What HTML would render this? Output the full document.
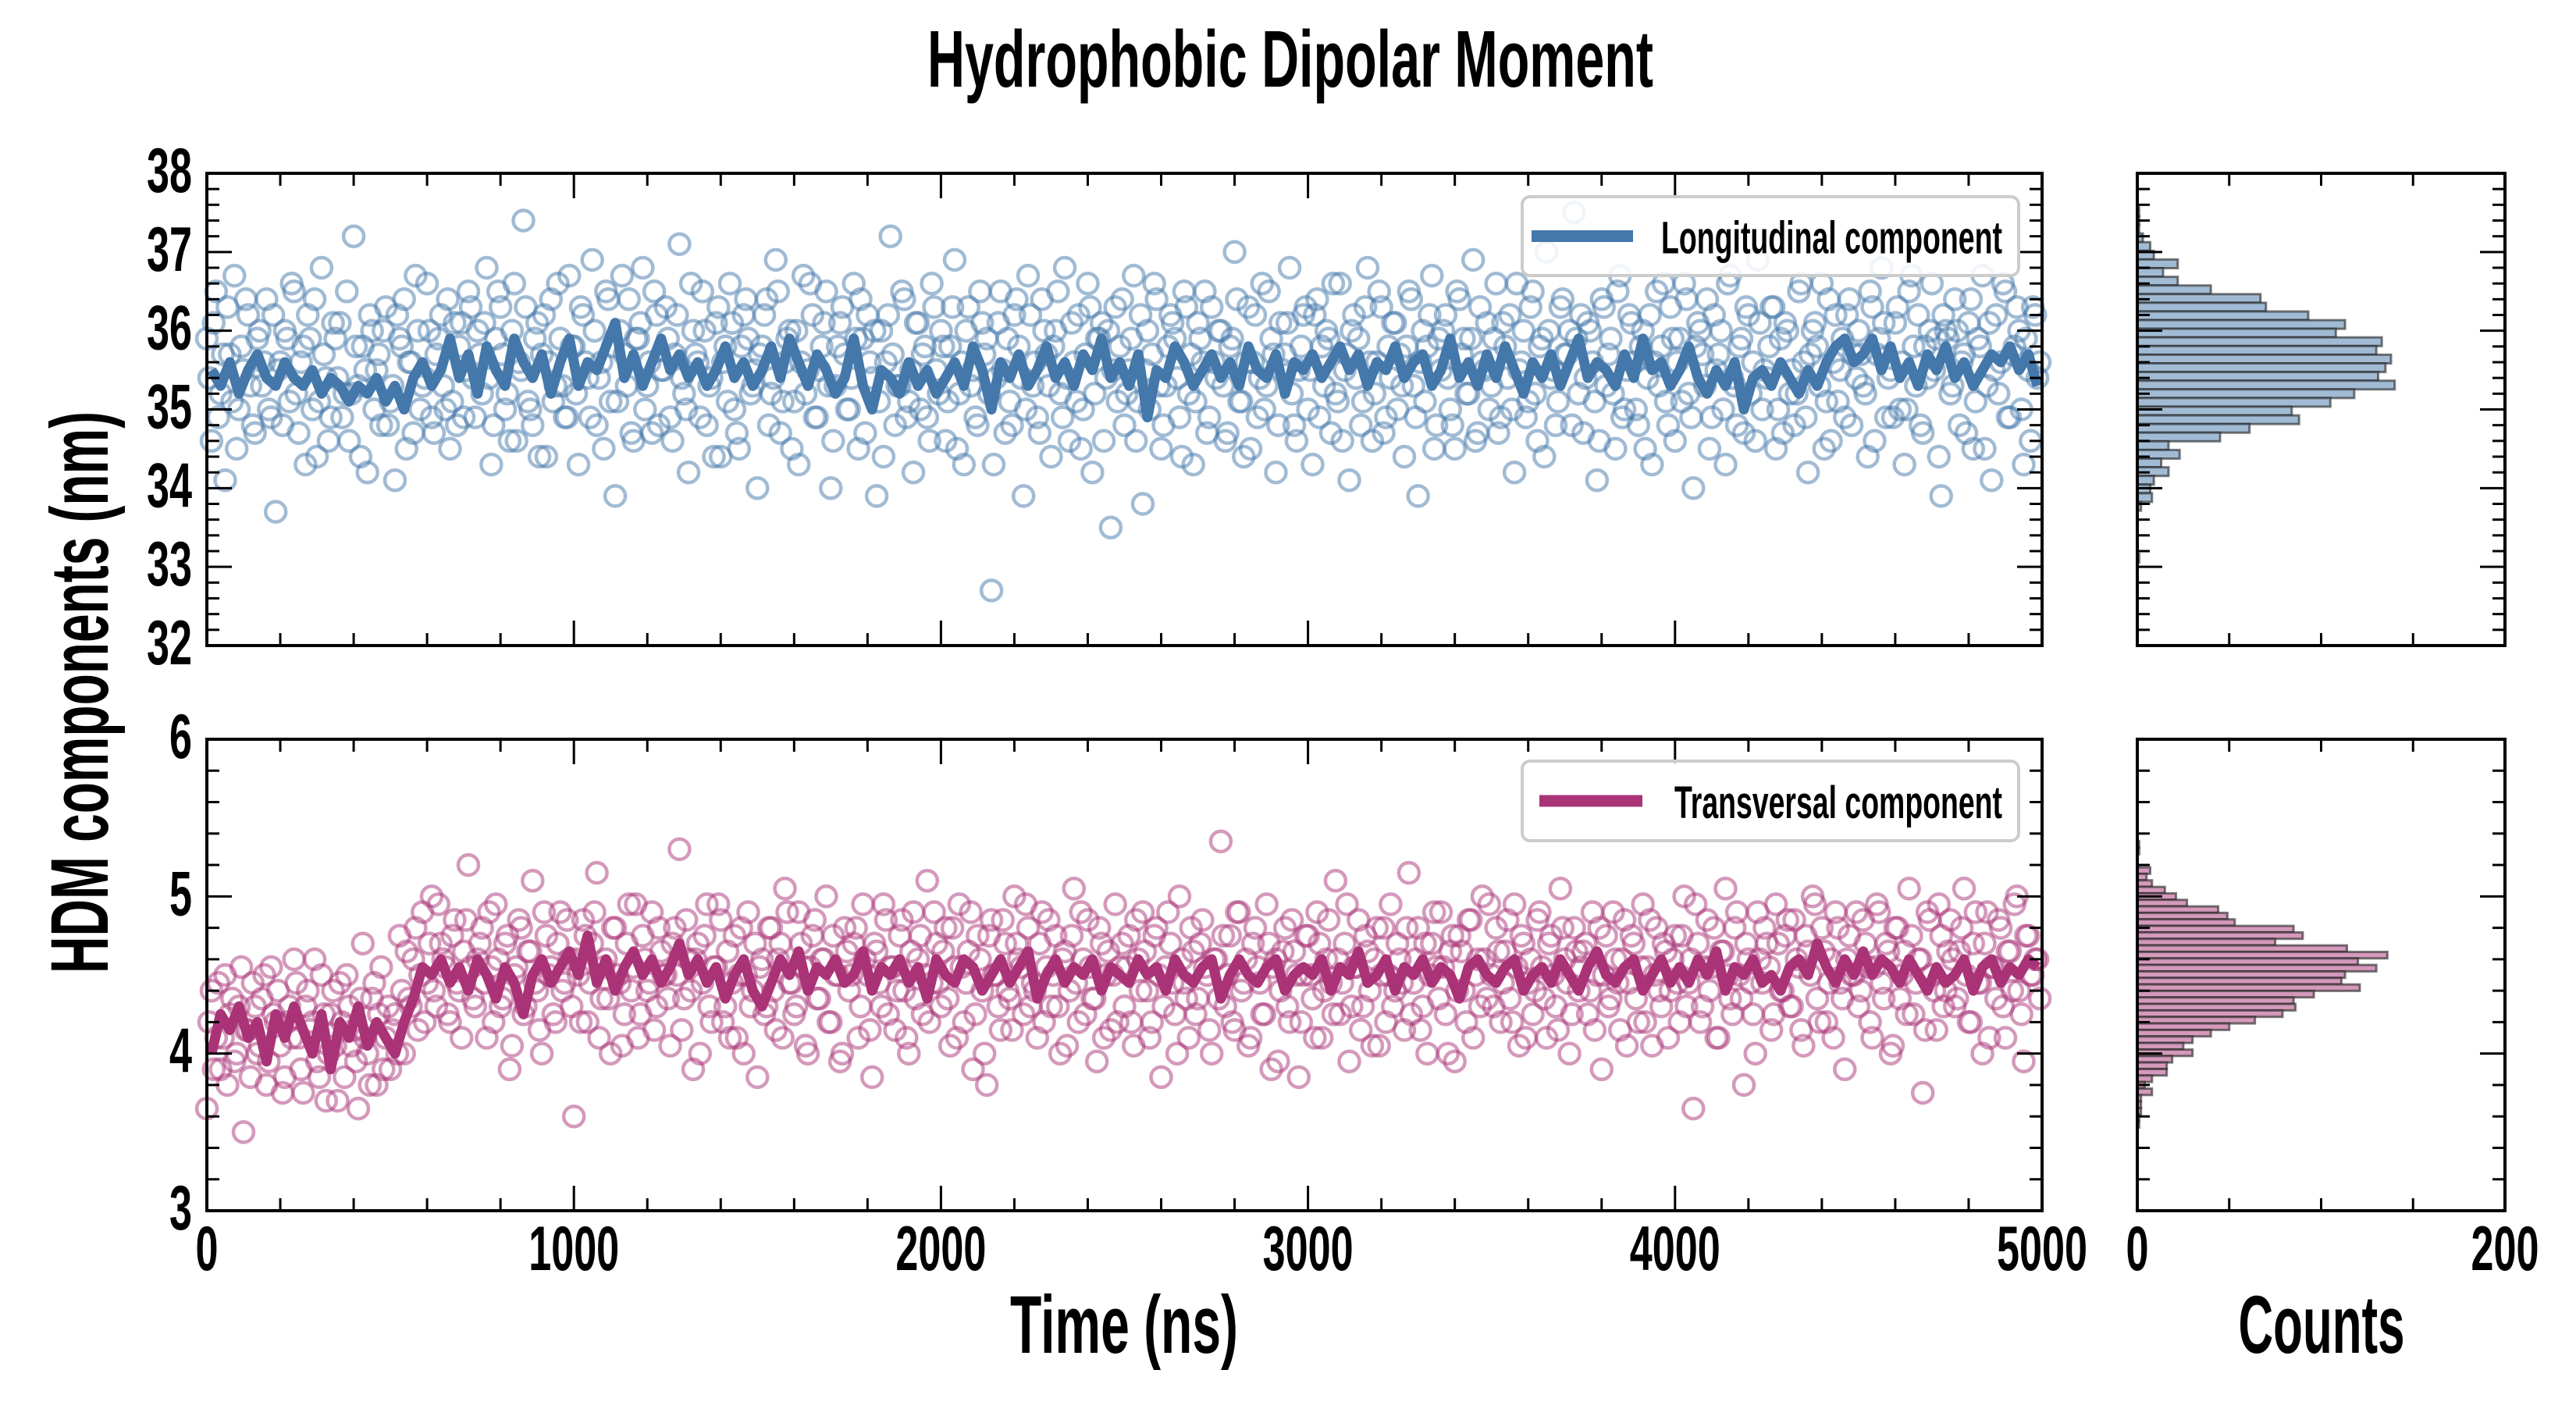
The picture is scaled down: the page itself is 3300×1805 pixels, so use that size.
<!DOCTYPE html>
<html><head><meta charset="utf-8"><style>
html,body{margin:0;padding:0;background:#fff;}
svg text{font-family:"Liberation Sans Narrow","Liberation Sans",sans-serif;font-weight:bold;fill:#000;}
</style></head><body>
<svg id="fig" xmlns="http://www.w3.org/2000/svg" width="3300" height="1800" viewBox="0 0 3300 1800">
<text x="1653" y="111" text-anchor="middle" font-size="103" textLength="930" lengthAdjust="spacingAndGlyphs">Hydrophobic Dipolar Moment</text>
<text transform="translate(138,887) rotate(-90)" text-anchor="middle" font-size="105" textLength="720" lengthAdjust="spacingAndGlyphs">HDM components (nm)</text>
<text x="1440" y="1733" text-anchor="middle" font-size="105" textLength="292" lengthAdjust="spacingAndGlyphs">Time (ns)</text>
<text x="2974" y="1733" text-anchor="middle" font-size="105" textLength="213" lengthAdjust="spacingAndGlyphs">Counts</text>
<g id="layer"></g>
</svg>
<script>
// ---- data ----
const topScatter = [
35.9,34.6,36.5,35.2,34.1,35.7,36.7,35.0,35.5,36.2,34.8,35.9,35.3,36.4,34.9,33.7,35.6,36.0,35.1,36.5,
34.7,35.8,36.2,35.0,34.4,36.8,35.4,34.9,35.9,36.1,35.2,34.6,37.2,35.3,35.8,34.2,36.0,35.5,34.8,36.3,
35.1,34.1,35.9,36.4,35.6,34.7,36.0,35.3,36.6,34.9,35.7,36.2,35.0,34.5,36.1,35.8,34.9,36.5,35.4,36.0,
35.2,36.8,34.3,35.9,36.3,35.0,34.6,36.6,35.6,37.4,35.1,34.8,36.1,35.7,34.4,36.4,35.3,35.9,34.9,36.7,
35.8,34.3,36.2,35.4,36.9,34.8,35.6,36.5,35.1,33.9,36.0,35.7,36.4,34.6,35.9,36.8,35.3,34.7,36.2,35.5,
36.3,34.9,35.7,37.1,35.2,34.2,36.0,35.6,36.5,34.8,35.4,36.1,34.4,35.8,36.6,35.0,34.5,36.2,35.9,35.3,
34.0,35.8,36.4,35.2,36.9,34.7,35.6,36.0,35.1,34.3,36.7,35.5,36.2,34.9,35.8,36.5,34.0,35.3,36.1,35.7,
35.0,36.6,34.5,35.9,36.2,35.4,33.9,36.0,35.6,37.2,34.8,35.3,36.4,35.1,34.2,36.1,35.7,34.9,36.6,35.5,
36.0,34.6,35.8,36.9,35.2,34.3,36.3,35.5,34.8,36.1,35.9,32.7,35.4,36.5,34.7,35.1,36.2,35.8,33.9,36.7,
35.3,34.9,36.4,35.7,34.4,36.0,35.2,36.8,34.6,35.6,36.2,35.0,36.6,34.2,35.9,36.1,35.4,33.5,36.3,35.8,
34.8,35.5,36.7,35.1,33.8,36.0,35.7,36.4,34.5,35.3,36.2,35.9,34.9,36.5,35.2,34.3,36.1,35.6,34.7,36.3,
35.4,36.0,34.6,35.8,37.0,35.1,34.4,36.3,35.6,34.9,36.6,35.3,35.9,34.2,36.1,35.7,36.8,34.8,35.5,36.2,
35.0,34.3,36.4,35.8,36.0,34.7,35.2,36.6,35.5,34.1,36.2,35.9,35.1,36.8,34.6,35.6,36.3,34.9,35.4,36.1,
35.7,34.4,36.5,35.3,33.9,36.0,35.8,36.7,34.8,35.5,36.2,35.0,34.5,36.4,35.9,35.2,36.9,34.7,35.6,36.1,
35.3,36.6,34.9,35.8,36.2,34.2,35.5,36.0,35.1,36.5,34.6,35.9,37.0,35.4,34.8,36.3,35.7,36.0,37.5,35.2,
34.7,36.1,35.6,34.1,36.4,35.3,35.9,34.5,36.7,35.0,36.2,35.6,34.8,36.0,35.4,34.3,36.5,35.8,35.1,36.3,
34.6,35.9,36.6,35.2,34.0,36.1,35.7,36.4,34.9,35.5,36.0,34.3,36.7,35.3,35.8,34.7,36.2,35.6,36.9,35.0,
35.4,36.3,34.5,35.9,36.1,35.2,34.8,36.5,35.6,34.2,36.0,35.8,36.6,35.1,34.6,36.2,35.5,34.9,36.4,35.7,
36.0,35.3,34.4,36.3,35.7,36.8,34.9,35.5,36.1,35.0,34.3,36.5,35.8,36.2,34.7,35.4,36.6,35.9,33.9,36.0,
35.2,36.4,34.8,35.7,36.1,34.5,35.9,36.7,35.3,34.1,36.2,35.6,36.5,34.9,35.8,36.0,34.3,35.5,36.3,35.4];
const topScatter2 = [
35.4,36.1,34.9,35.7,36.3,35.1,34.5,35.8,36.4,35.3,34.7,36.0,35.6,35.0,36.2,35.5,34.8,35.9,36.6,35.2,
35.6,34.3,35.9,36.4,35.1,35.7,34.6,36.1,35.4,34.9,36.5,35.2,35.8,34.4,35.5,36.2,35.0,35.7,36.0,34.8,
35.3,36.2,35.8,34.5,35.6,36.7,35.0,35.4,36.0,34.7,35.9,35.3,36.4,35.1,34.8,36.1,35.5,36.3,34.9,35.7,
36.1,35.4,34.8,36.5,35.7,35.2,36.0,34.6,35.5,36.3,35.0,35.9,34.4,36.2,35.6,35.1,36.6,35.3,34.9,35.8,
35.2,36.3,35.6,34.9,36.0,35.4,34.5,36.4,35.8,35.1,36.7,35.3,34.7,35.9,36.1,35.0,35.6,36.5,34.8,35.5,
35.9,34.6,36.2,35.4,35.0,36.6,35.7,34.9,36.0,35.3,34.4,36.3,35.6,35.1,36.1,34.7,35.8,36.4,35.2,35.5,
35.7,36.2,34.8,35.4,36.5,35.1,35.9,34.5,36.0,35.6,35.2,36.6,34.9,35.5,36.1,35.3,34.6,35.8,36.3,35.0,
35.4,35.9,36.4,34.7,35.6,36.0,35.1,34.4,36.2,35.7,35.3,36.5,34.9,35.5,36.1,35.0,35.8,34.6,36.3,35.2,
35.8,35.1,36.3,34.5,35.6,36.0,35.3,34.9,36.5,35.7,35.2,34.3,36.1,35.5,35.9,34.8,36.4,35.4,35.0,36.2,
35.6,34.7,36.0,35.3,35.8,36.5,34.9,35.4,36.1,35.1,34.5,35.7,36.3,35.2,35.9,34.6,36.0,35.5,35.1,36.4,
35.2,35.9,34.6,36.2,35.5,35.0,36.6,35.3,34.8,35.8,36.1,35.4,34.4,36.3,35.7,35.1,35.9,36.5,34.9,35.6,
36.0,35.3,34.7,35.9,36.4,35.1,35.6,34.5,36.2,35.4,35.0,36.5,35.7,34.8,35.5,36.1,35.2,34.6,35.8,36.3,
35.5,36.2,34.9,35.3,35.9,36.6,35.1,34.6,35.7,36.0,35.4,34.8,36.3,35.6,35.2,36.5,34.7,35.8,36.1,35.0,
35.3,35.8,36.4,34.9,35.6,35.1,36.2,34.5,35.9,36.0,35.4,34.8,36.5,35.7,35.2,35.9,34.6,36.3,35.5,35.0,
35.9,34.7,36.1,35.4,35.0,36.6,35.6,34.9,36.3,35.2,35.8,34.4,36.0,35.5,35.1,36.4,35.7,34.8,35.9,36.2,
35.4,36.0,35.1,34.6,36.3,35.7,35.2,36.5,34.9,35.5,36.1,35.0,35.8,34.5,36.2,35.6,35.3,36.6,34.8,35.9,
35.6,35.1,36.4,34.9,35.8,36.0,35.3,34.5,36.2,35.7,35.0,36.6,35.4,34.8,35.9,36.3,35.2,34.6,36.1,35.5,
35.8,36.3,35.0,34.7,36.0,35.5,35.2,36.6,34.9,35.7,36.1,35.3,34.5,36.4,35.6,35.1,35.9,36.2,34.8,35.4,
35.7,35.2,36.5,34.6,35.9,36.1,35.4,34.9,36.3,35.6,35.0,36.7,35.3,34.8,35.8,36.0,35.5,34.4,36.2,35.9,
35.3,36.0,35.6,34.7,36.4,35.1,35.8,34.5,36.1,35.5,35.2,36.6,34.9,35.7,36.3,35.0,35.9,34.6,36.2,35.6];
const botScatter = [
3.65,4.4,4.1,3.9,4.5,4.25,3.95,4.3,3.5,4.15,4.45,4.0,4.35,3.8,4.55,4.2,4.05,3.85,4.3,4.6,
4.1,3.75,4.4,4.2,3.95,4.5,3.7,4.25,4.05,4.45,3.85,4.3,4.15,3.65,4.7,4.0,4.35,3.8,4.55,4.1,
3.9,4.25,4.75,4.0,4.35,4.6,4.15,4.9,4.45,5.0,4.3,4.7,4.55,4.2,4.85,4.4,4.65,5.2,4.35,4.6,
4.8,4.1,4.55,4.95,4.3,4.7,3.9,4.5,4.85,4.25,4.65,5.1,4.4,4.0,4.75,4.55,4.2,4.9,4.45,4.6,
3.6,4.5,4.85,4.2,4.7,5.15,4.35,4.6,4.0,4.8,4.45,4.25,4.95,4.55,4.1,4.75,4.4,4.9,4.3,4.65,
4.5,4.05,4.8,5.3,4.35,4.6,3.9,4.7,4.45,4.95,4.2,4.55,4.85,4.3,4.1,4.75,4.5,4.0,4.9,4.4,
3.85,4.6,4.3,4.8,4.15,4.7,5.05,4.45,4.25,4.9,4.55,4.0,4.75,4.35,4.6,5.0,4.2,4.5,3.95,4.8,
4.4,4.7,4.1,4.95,4.5,3.85,4.65,4.3,4.85,4.55,4.15,4.75,4.4,4.0,4.9,4.6,4.25,5.1,4.45,4.7,
4.3,4.8,4.05,4.55,4.95,4.2,4.65,3.9,4.75,4.4,3.8,4.85,4.5,4.15,4.7,4.35,5.0,4.6,4.25,4.8,
4.45,4.1,4.9,4.55,4.3,4.75,4.0,4.65,4.4,5.05,4.2,4.6,4.85,4.35,3.95,4.7,4.5,4.15,4.95,4.55,
4.3,4.75,4.05,4.6,4.9,4.4,4.2,4.8,3.85,4.55,4.7,4.25,5.0,4.45,4.1,4.65,4.35,4.85,4.5,4.0,
4.6,5.35,4.3,4.75,4.15,4.9,4.45,4.05,4.7,4.55,4.25,4.95,3.9,4.6,4.4,4.8,4.2,4.65,3.85,4.5,
4.75,4.35,4.9,4.1,4.6,4.45,5.1,4.25,4.7,3.95,4.55,4.85,4.3,4.65,4.05,4.8,4.5,4.2,4.95,4.4,
4.6,4.15,5.15,4.45,4.8,4.3,4.0,4.7,4.55,4.9,4.25,4.65,3.95,4.75,4.4,4.85,4.1,4.6,5.0,4.35,
4.5,4.8,4.2,4.65,4.35,4.95,4.05,4.7,4.45,4.25,4.85,4.55,4.1,4.75,4.3,5.05,4.6,4.0,4.8,4.4,
4.65,4.25,4.9,4.5,3.9,4.75,4.35,4.6,4.15,4.85,4.45,4.7,4.2,4.95,4.55,4.05,4.8,4.3,4.65,4.4,
4.75,4.2,5.0,4.45,3.65,4.7,4.3,4.85,4.55,4.1,4.65,5.05,4.35,4.8,4.5,3.8,4.6,4.25,4.9,4.45,
4.7,4.15,4.95,4.4,4.75,4.3,4.85,4.55,4.05,4.65,5.0,4.35,4.8,4.2,4.6,4.9,4.45,3.9,4.75,4.5,
4.3,4.85,4.55,4.1,4.95,4.45,4.7,4.0,4.8,4.35,4.65,5.05,4.25,4.6,3.75,4.9,4.5,4.15,4.75,4.4,
4.85,4.3,4.65,5.05,4.2,4.7,4.45,4.0,4.9,4.55,4.35,4.8,4.1,4.65,4.95,4.4,3.95,4.75,4.5,4.6];
const botScatter2 = [
4.2,3.9,4.45,4.1,3.8,4.35,4.0,4.55,4.15,3.85,4.3,4.05,4.5,3.95,4.25,4.4,3.75,4.2,4.1,4.45,
3.9,4.3,4.15,4.6,3.85,4.25,4.0,4.4,3.7,4.2,4.5,4.05,3.95,4.35,4.1,3.8,4.45,4.25,3.9,4.3,
4.15,4.0,4.4,4.65,4.3,4.8,4.5,4.2,4.7,4.4,4.95,4.6,4.25,4.75,4.45,4.1,4.85,4.55,4.3,4.7,
4.45,4.9,4.2,4.6,4.35,4.75,4.05,4.55,4.8,4.3,4.65,4.45,4.15,4.9,4.5,4.25,4.7,4.4,4.85,4.3,
4.6,4.2,4.75,4.45,4.9,4.1,4.55,4.35,4.8,4.5,4.05,4.7,4.4,4.95,4.25,4.6,4.45,4.15,4.8,4.5,
4.35,4.7,4.5,4.15,4.85,4.4,4.6,4.0,4.75,4.3,4.55,4.95,4.2,4.65,4.45,4.1,4.8,4.5,4.3,4.7,
4.55,4.25,4.8,4.4,4.6,4.1,4.9,4.45,4.3,4.7,4.05,4.55,4.85,4.35,4.6,4.2,4.75,4.5,4.0,4.65,
4.5,4.8,4.3,4.6,4.15,4.7,4.45,4.95,4.25,4.55,4.4,4.85,4.1,4.65,4.35,4.75,4.5,4.2,4.9,4.45,
4.65,4.35,4.8,4.1,4.55,4.45,4.9,4.25,4.6,4.0,4.75,4.5,4.3,4.85,4.4,4.15,4.7,4.55,4.95,4.3,
4.4,4.7,4.2,4.85,4.5,4.3,4.6,4.05,4.75,4.45,4.9,4.25,4.55,4.35,4.8,4.1,4.65,4.5,4.2,4.7,
4.55,4.2,4.85,4.4,4.65,4.1,4.75,4.5,4.3,4.9,4.45,4.0,4.6,4.35,4.8,4.25,4.7,4.55,4.15,4.6,
4.35,4.75,4.5,4.2,4.9,4.4,4.6,4.1,4.8,4.45,4.25,4.7,4.55,3.95,4.65,4.3,4.85,4.5,4.2,4.75,
4.5,4.1,4.7,4.4,4.85,4.25,4.6,4.45,4.95,4.3,4.55,4.15,4.75,4.4,4.6,4.05,4.8,4.5,4.3,4.7,
4.45,4.8,4.25,4.6,4.15,4.7,4.5,4.9,4.35,4.55,4.0,4.75,4.4,4.65,4.2,4.85,4.5,4.3,4.6,4.95,
4.3,4.65,4.45,4.85,4.2,4.55,4.75,4.1,4.6,4.4,4.9,4.35,4.7,4.5,4.15,4.8,4.45,4.25,4.65,4.55,
4.7,4.4,4.15,4.8,4.5,4.3,4.9,4.45,4.6,4.05,4.75,4.35,4.55,4.2,4.85,4.5,4.4,4.7,4.1,4.6,
4.45,4.75,4.3,4.6,4.95,4.2,4.55,4.4,4.8,4.1,4.65,4.5,4.25,4.9,4.35,4.7,4.45,4.0,4.6,4.8,
4.55,4.25,4.7,4.4,4.85,4.3,4.6,4.15,4.75,4.5,4.95,4.2,4.65,4.45,4.1,4.8,4.35,4.6,4.5,4.9,
4.4,4.7,4.2,4.55,4.9,4.35,4.65,4.05,4.8,4.5,4.25,4.75,4.45,4.6,4.15,4.85,4.4,4.95,4.3,4.65,
4.6,4.35,4.8,4.5,4.2,4.9,4.45,4.7,4.1,4.55,4.85,4.3,4.65,4.4,5.0,4.25,4.75,4.5,4.6,4.35];
const topLine = [
35.5,35.3,35.6,35.2,35.5,35.7,35.4,35.3,35.6,35.4,35.3,35.5,35.2,35.4,35.3,35.1,35.3,35.2,35.4,35.1,
35.3,35.0,35.4,35.6,35.3,35.5,35.9,35.4,35.7,35.2,35.8,35.5,35.3,35.9,35.6,35.4,35.7,35.2,35.6,35.9,
35.3,35.6,35.5,35.8,36.1,35.4,35.7,35.3,35.6,35.9,35.5,35.7,35.4,35.6,35.3,35.5,35.8,35.4,35.6,35.3,
35.5,35.8,35.4,35.9,35.6,35.3,35.7,35.5,35.2,35.4,35.9,35.3,35.0,35.5,35.4,35.2,35.6,35.3,35.5,35.2,
35.4,35.6,35.3,35.8,35.5,35.0,35.6,35.4,35.7,35.3,35.5,35.8,35.4,35.6,35.3,35.7,35.5,35.9,35.4,35.6,
35.3,35.7,34.9,35.5,35.4,35.8,35.6,35.3,35.5,35.7,35.4,35.6,35.3,35.8,35.5,35.4,35.7,35.2,35.6,35.5,
35.7,35.4,35.6,35.8,35.5,35.7,35.3,35.6,35.5,35.8,35.4,35.6,35.7,35.3,35.5,35.9,35.4,35.6,35.3,35.7,
35.4,35.8,35.5,35.2,35.6,35.4,35.7,35.3,35.6,35.9,35.4,35.6,35.5,35.3,35.7,35.4,35.9,35.5,35.6,35.3,
35.5,35.8,35.4,35.2,35.5,35.3,35.6,35.0,35.4,35.5,35.3,35.6,35.4,35.2,35.5,35.3,35.6,35.8,35.9,35.6,
35.7,35.9,35.5,35.8,35.4,35.6,35.3,35.7,35.5,35.8,35.4,35.6,35.3,35.5,35.7,35.6,35.8,35.5,35.7,35.3];
const botLine = [
4.0,4.25,4.15,4.3,4.1,4.2,3.95,4.25,4.1,4.3,4.15,4.0,4.25,3.9,4.2,4.1,4.3,4.05,4.2,4.1,
4.0,4.2,4.35,4.55,4.5,4.6,4.45,4.55,4.4,4.6,4.5,4.35,4.55,4.45,4.25,4.5,4.6,4.45,4.55,4.65,
4.5,4.75,4.45,4.6,4.4,4.55,4.65,4.5,4.6,4.45,4.55,4.7,4.5,4.6,4.45,4.55,4.35,4.5,4.6,4.4,
4.3,4.45,4.6,4.5,4.65,4.4,4.55,4.5,4.6,4.45,4.5,4.65,4.4,4.55,4.5,4.6,4.45,4.55,4.35,4.6,
4.5,4.45,4.6,4.55,4.4,4.5,4.6,4.45,4.55,4.65,4.35,4.5,4.6,4.45,4.55,4.5,4.6,4.4,4.55,4.5,
4.45,4.6,4.5,4.55,4.4,4.6,4.5,4.45,4.55,4.6,4.35,4.5,4.6,4.5,4.45,4.55,4.6,4.4,4.5,4.55,
4.5,4.6,4.4,4.55,4.5,4.65,4.45,4.5,4.6,4.4,4.55,4.5,4.6,4.45,4.55,4.5,4.35,4.55,4.6,4.5,
4.45,4.55,4.6,4.4,4.5,4.55,4.45,4.6,4.5,4.4,4.55,4.65,4.5,4.45,4.55,4.6,4.4,4.5,4.6,4.45,
4.55,4.45,4.6,4.5,4.65,4.4,4.55,4.5,4.6,4.45,4.5,4.4,4.55,4.6,4.5,4.7,4.55,4.45,4.6,4.5,
4.65,4.5,4.6,4.55,4.45,4.6,4.5,4.4,4.55,4.45,4.5,4.6,4.4,4.55,4.6,4.45,4.55,4.5,4.6,4.55];
// histogram counts, listed from highest bin centre downward
const topHistTop = 37.51, topHistWidth = 0.11;
const topHistCounts = [1,1,1,3,7,9,22,14,22,40,67,70,93,113,108,133,130,138,135,131,140,118,105,84,88,61,45,17,23,13,17,9,7,8,2,0,0,0,0,0,1];
const botHistTop = 5.33, botHistWidth = 0.0414;
const botHistCounts = [1,1,0,0,7,5,8,15,21,27,44,49,53,85,90,75,114,136,120,130,113,111,121,96,85,86,79,64,50,40,30,25,30,19,16,16,8,4,8,2,2,2,1,1];
const xTickLabels = ["0","1000","2000","3000","4000","5000"];
const topYTicks = ["32","33","34","35","36","37","38"];
const botYTicks = ["3","4","5","6"];
const histXTickLabels = ["0","200"];

// ---- layout ----
const NS = "http://www.w3.org/2000/svg";
const layer = document.getElementById('layer');
const MX0 = 265, MX1 = 2616, HX0 = 2738, HX1 = 3209;
const TOP = {y0: 222, y1: 827, min: 32, max: 38};
const BOT = {y0: 947, y1: 1551, min: 3, max: 6};
const xScale = t => MX0 + (t / 5000) * (MX1 - MX0);
const yScale = (p, v) => p.y1 - (v - p.min) / (p.max - p.min) * (p.y1 - p.y0);
const hScale = c => HX0 + (c / 200) * (HX1 - HX0);
function mk(tag, attrs, parent) {
  const e = document.createElementNS(NS, tag);
  for (const k in attrs) e.setAttribute(k, attrs[k]);
  (parent || layer).appendChild(e);
  return e;
}

function drawScatter(p, arr, offset, color, name, parent) {
  const sg = mk('g', {fill: 'none', stroke: color, 'stroke-width': 4.5, 'stroke-opacity': 0.5}, parent);
  
  
  const dt = 5000 / arr.length;
  arr.forEach((v, i) => {
    const c = mk('circle', {cx: xScale(i * dt + offset * dt).toFixed(1), cy: yScale(p, v).toFixed(1), r: 13}, sg);
    
    
  });
}

function drawPanel(p, scatter, scatter2, line, color, name) {
  const g = mk('g', {});
  
  
  drawScatter(p, scatter, 0, color, name, g);
  drawScatter(p, scatter2, 0.5, color, name, g);
  const ld = 5000 / line.length;
  const pts = line.map((v, i) => xScale(i * ld + ld / 2).toFixed(1) + ',' + yScale(p, v).toFixed(1)).join(' ');
  const pl = mk('polyline', {points: pts, fill: 'none', stroke: color, 'stroke-width': 13, 'stroke-linejoin': 'round'}, g);
  
  
}

function drawHist(p, top, width, counts, fill, name) {
  const g = mk('g', {});
  
  
  counts.forEach((c, i) => {
    if (c <= 0) return;
    const center = top - i * width;
    const ya = yScale(p, center + width / 2), yb = yScale(p, center - width / 2);
    const r = mk('rect', {x: HX0, y: ya.toFixed(1), width: (hScale(c) - HX0).toFixed(1), height: (yb - ya).toFixed(1), fill: fill, stroke: '#222', 'stroke-opacity': 0.6, 'stroke-width': 3}, g);
    
    
  });
}

function frame(x0, x1, p, name) {
  const r = mk('rect', {x: x0, y: p.y0, width: x1 - x0, height: p.y1 - p.y0, fill: 'none', stroke: '#000', 'stroke-width': 4});
  
  
}
function tick(x1, y1, x2, y2) {
  mk('line', {x1, y1, x2, y2, stroke: '#000', 'stroke-width': 3});
}
function yTicks(x0, x1, p, majorLen) {
  const n = (p.max - p.min) * 5;
  for (let i = 1; i < n; i++) {
    const v = p.min + i * 0.2, y = yScale(p, v);
    const len = (i % 5 === 0) ? majorLen : 16;
    tick(x0, y, x0 + len, y);
    tick(x1, y, x1 - len, y);
  }
}
function label(txt, x, y, anchor, name) {
  const t = mk('text', {x, y, 'text-anchor': anchor, 'font-size': 81, textLength: txt.length * 29, lengthAdjust: 'spacingAndGlyphs'});
  t.textContent = txt;
  
  
}

drawPanel(TOP, topScatter, topScatter2, topLine, '#4477aa', 'longitudinal');
drawPanel(BOT, botScatter, botScatter2, botLine, '#aa3377', 'transversal');
drawHist(TOP, topHistTop, topHistWidth, topHistCounts, '#a1bbd4', 'longitudinal');
drawHist(BOT, botHistTop, botHistWidth, botHistCounts, '#d499bb', 'transversal');

[TOP, BOT].forEach((p, k) => {
  frame(MX0, MX1, p, k ? 'bottom-main' : 'top-main');
  frame(HX0, HX1, p, k ? 'bottom-hist' : 'top-hist');
  yTicks(MX0, MX1, p, 32);
  yTicks(HX0, HX1, p, 32);
  for (let t = 200; t < 5000; t += 200) {
    const x = xScale(t), len = (t % 1000 === 0) ? 32 : 16;
    tick(x, p.y0, x, p.y0 + len);
    tick(x, p.y1, x, p.y1 - len);
  }
  for (let c = 50; c < 200; c += 50) {
    const x = hScale(c);
    tick(x, p.y0, x, p.y0 + 16);
    tick(x, p.y1, x, p.y1 - 16);
  }
});
topYTicks.forEach(s => label(s, 246, yScale(TOP, +s) + 24, 'end', 'y-tick-label'));
botYTicks.forEach(s => label(s, 246, yScale(BOT, +s) + 24, 'end', 'y-tick-label'));
xTickLabels.forEach(s => label(s, xScale(+s), 1627, 'middle', 'x-tick-label'));
histXTickLabels.forEach(s => label(s, hScale(+s), 1627, 'middle', 'hist-x-tick-label'));

function legend(y0, y1, lx0, lx1, tx, txt, color, name) {
  const g = mk('g', {});
  
  
  mk('rect', {x: 1950, y: y0, width: 636, height: y1 - y0, rx: 10, fill: '#fff', 'fill-opacity': 0.85, stroke: '#ccc', 'stroke-width': 4}, g);
  const ly = (y0 + y1) / 2;
  mk('line', {x1: lx0, y1: ly, x2: lx1, y2: ly, stroke: color, 'stroke-width': 15}, g);
  const t = mk('text', {x: tx, y: ly + 22, 'font-size': 58, textLength: 2565 - tx, lengthAdjust: 'spacingAndGlyphs'}, g);
  t.textContent = txt;
}
legend(252, 353, 1962, 2092, 2128, 'Longitudinal component', '#4477aa', 'longitudinal');
legend(975, 1077, 1972, 2104, 2145, 'Transversal component', '#aa3377', 'transversal');
</script>
</body></html>
